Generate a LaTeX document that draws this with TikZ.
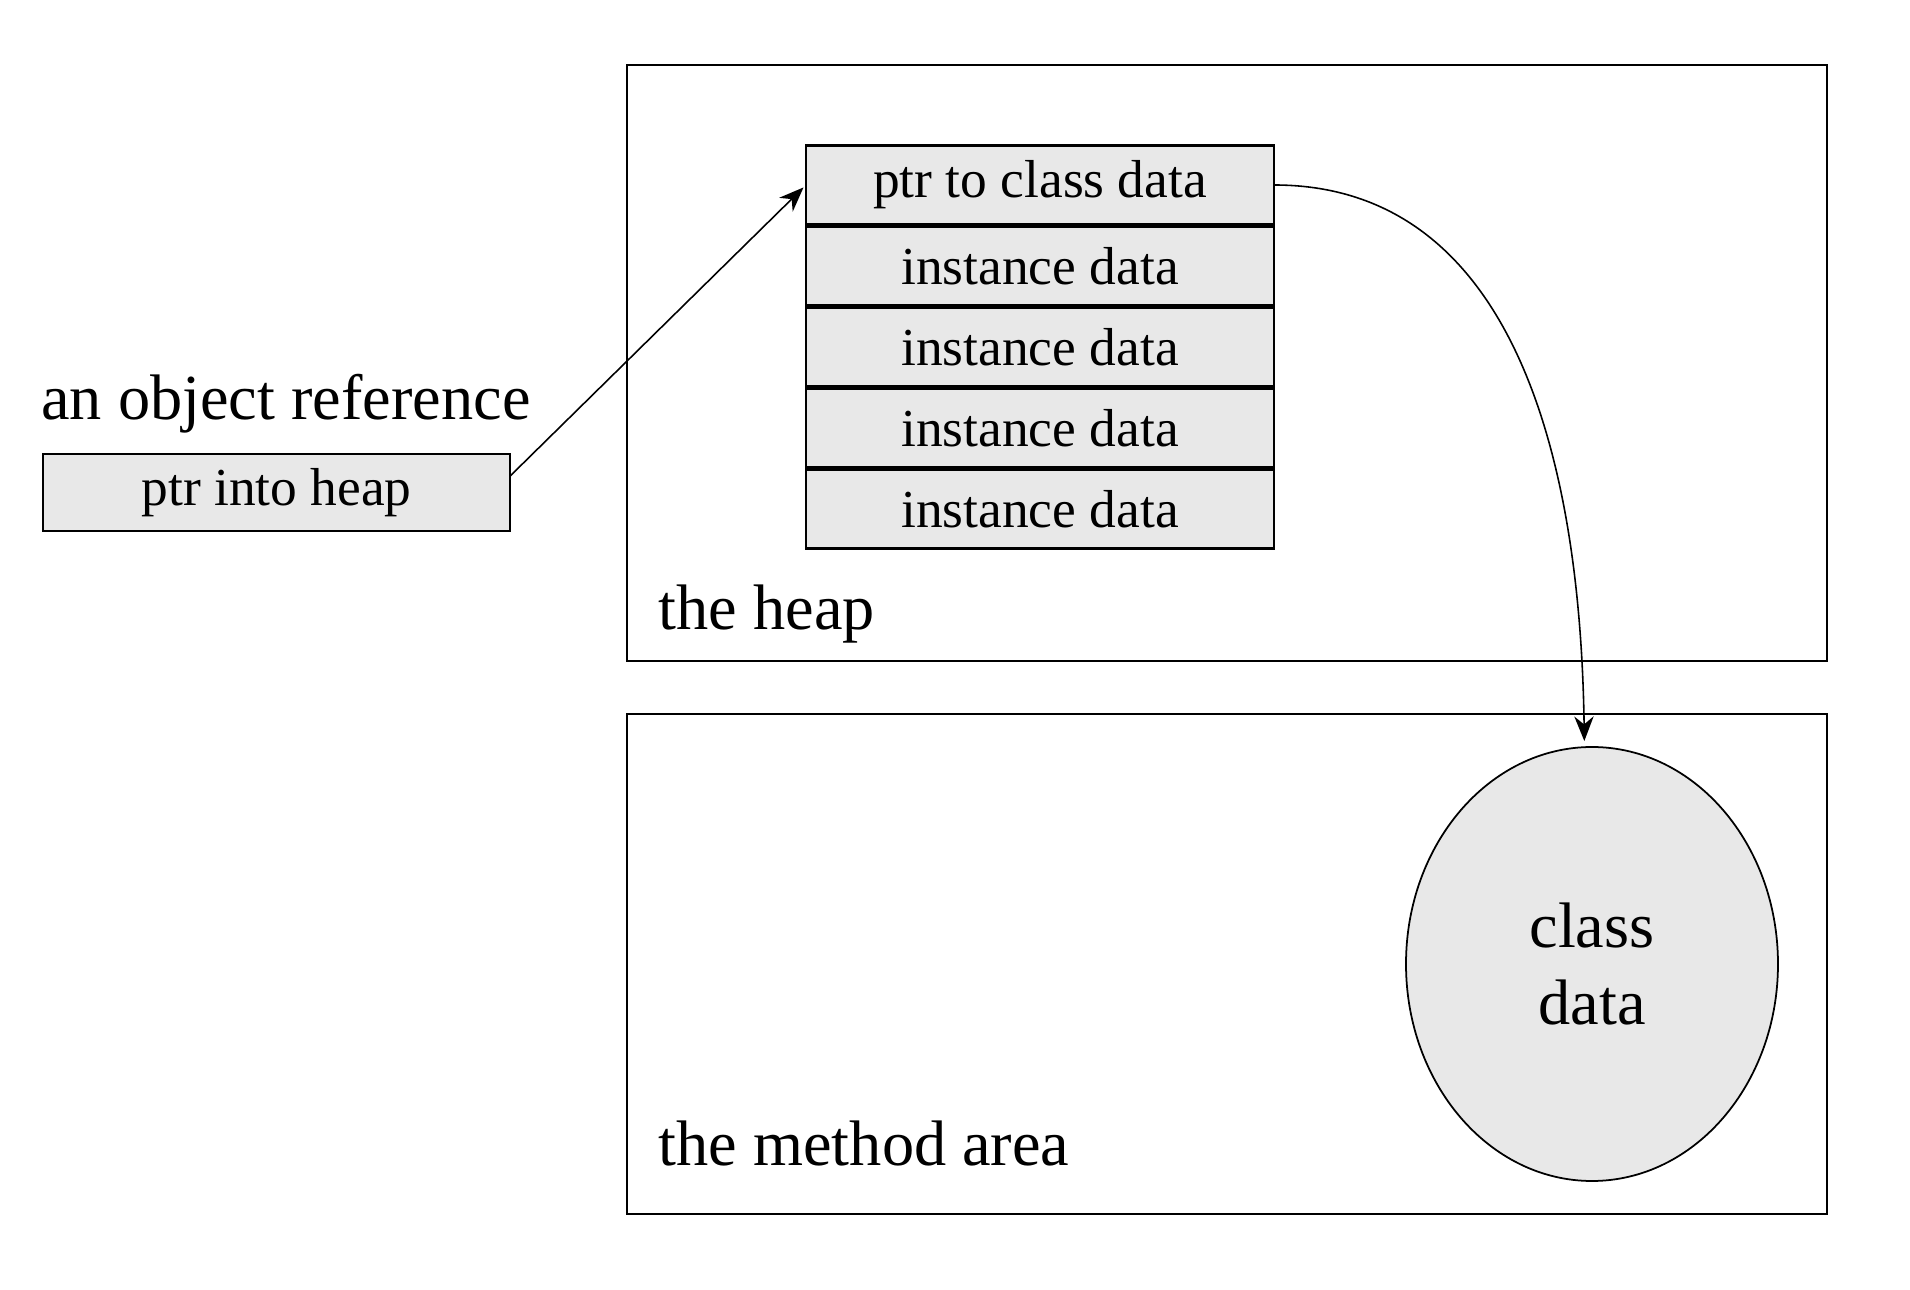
\documentclass[tikz,border=0pt]{standalone}
\usepackage{fontspec}
\setmainfont{Liberation Serif}
\usetikzlibrary{positioning,arrows.meta,shapes.geometric}
\tikzset{
  cell/.style={rectangle,draw,fill=black!9,line width=0.6pt,minimum width=4.68cm,
    minimum height=0.79cm,inner sep=0pt,outer sep=0pt,font=\fontsize{15.2}{18}\selectfont},
  biglabel/.style={inner sep=0pt,font=\fontsize{18.3}{22}\selectfont},
  ptrarrow/.style={-{Stealth[length=7pt,width=5.5pt]},line width=0.45pt}
}
\begin{document}
\begin{tikzpicture}
	\useasboundingbox (0,0) rectangle (19.1,12.9);
	% the two areas
	\draw [line width=0.6pt] (6.27,6.29) rectangle (18.27,12.25);
	\draw [line width=0.6pt] (6.27,0.76) rectangle (18.27,5.76);
	\node (H) [biglabel,anchor=base west] at (6.58,6.60) {the heap};
	\node (M) [biglabel,anchor=base west] at (6.58,1.24) {the method area};

	% the object on the heap
	\node (C1) [cell] at (10.40,11.05) {ptr to class data};
	\node (C2) [cell,below=0.02 of C1] {instance data};
	\node (C3) [cell,below=0.02 of C2] {instance data};
	\node (C4) [cell,below=0.02 of C3] {instance data};
	\node (C5) [cell,below=0.02 of C4] {instance data};

	% the reference
	\node (L) [biglabel,anchor=base] at (2.86,8.70) {an object reference};
	\node (R) [cell,minimum width=4.67cm,minimum height=0.77cm] at (2.765,7.975) {ptr into heap};

	% class data in the method area
	\node (CD) [ellipse,draw,fill=black!9,line width=0.5pt,minimum width=3.72cm,minimum height=4.34cm,
	  inner sep=0pt,align=center,biglabel] at (15.92,3.26) {class\\data};

	\draw [ptrarrow,shorten >=1pt] (R.4) -- (C1.west);
	\draw [ptrarrow,shorten >=1.5pt] (C1.east) .. controls (15.0,11.05) and (15.80,8.6) .. (CD.92);
\end{tikzpicture}
\end{document}
